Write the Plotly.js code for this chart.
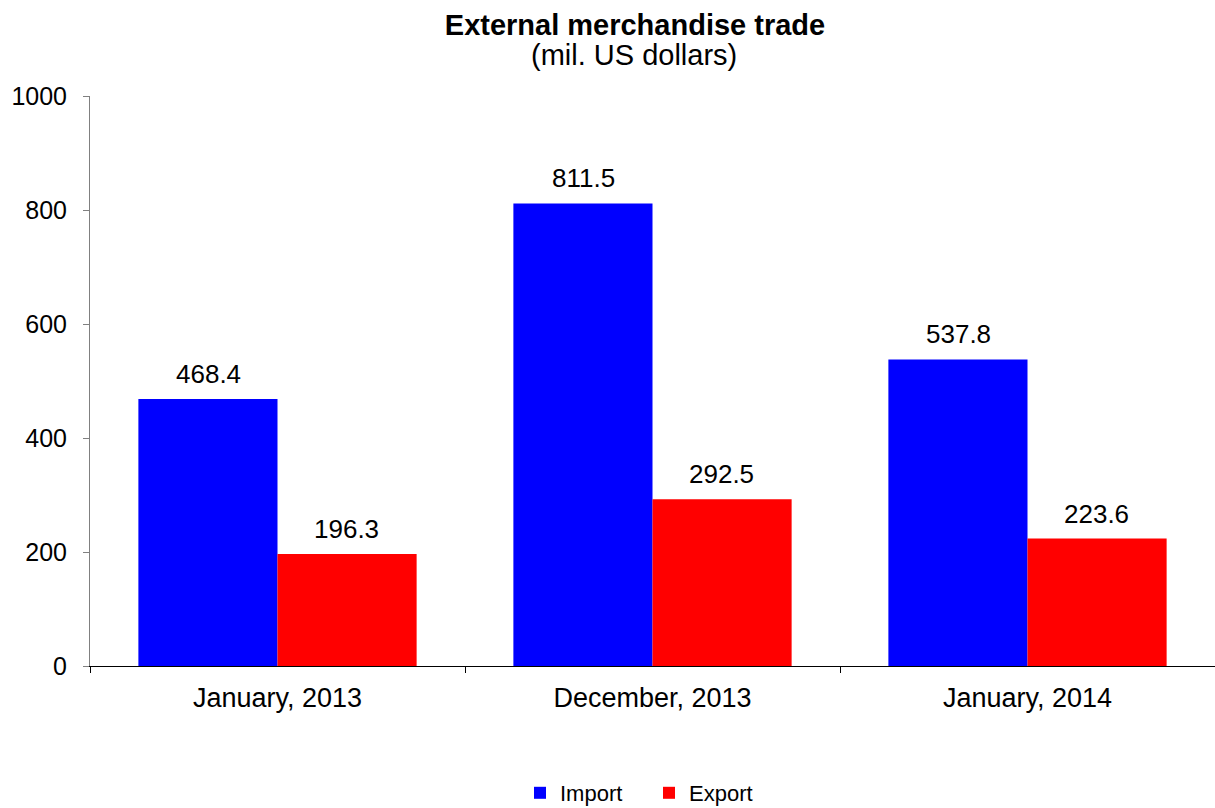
<!DOCTYPE html>
<html>
<head>
<meta charset="utf-8">
<script src="https://cdn.plot.ly/plotly-3.0.1.min.js"></script>
<style>html,body{margin:0;padding:0;background:#fff;}#chart{width:1215px;height:808px;}</style>
</head>
<body>
<div id="chart"></div>
<script>
const categories = ["January, 2013", "December, 2013", "January, 2014"];
const importValues = [468.4, 811.5, 537.8];
const exportValues = [196.3, 292.5, 223.6];
const yTicks = [0, 200, 400, 600, 800, 1000];

const font = "Liberation Sans, Arial, sans-serif";
const traces = [
  {type: "bar", name: "Import", x: categories, y: importValues, marker: {color: "#0000ff"}},
  {type: "bar", name: "Export", x: categories, y: exportValues, marker: {color: "#ff0000"}}
];

const barOffset = 0.1853;
const annotations = [];
categories.forEach((c, i) => {
  annotations.push({x: i - barOffset, y: importValues[i], xref: "x", yref: "y", text: importValues[i].toFixed(1),
    showarrow: false, yanchor: "bottom", yshift: 8, font: {size: 26, color: "#000", family: font}});
  annotations.push({x: i + barOffset, y: exportValues[i], xref: "x", yref: "y", text: exportValues[i].toFixed(1),
    showarrow: false, yanchor: "bottom", yshift: 8, font: {size: 26, color: "#000", family: font}});
});
annotations.push({text: "(mil. US dollars)", xref: "paper", yref: "paper", x: (634 - 90) / 1125, y: (666 - 55) / 570,
  yanchor: "middle", showarrow: false, font: {size: 29, color: "#000", family: font}});

const layout = {
  width: 1215, height: 808,
  margin: {l: 90, r: 0, t: 96, b: 142, autoexpand: false},
  paper_bgcolor: "#fff", plot_bgcolor: "#fff",
  font: {family: font, size: 24, color: "#000"},
  title: {text: "<b>External merchandise trade</b>", x: (635 - 90) / 1125, xref: "paper", y: 1 - 25/808, yref: "container",
    yanchor: "middle", font: {size: 29, color: "#000", family: font}},
  barmode: "group", bargap: 0.258, bargroupgap: 0,
  xaxis: {type: "category", showline: true, linecolor: "#000", linewidth: 1, ticks: "outside", tickson: "boundaries",
    ticklen: 6, tickcolor: "#000", tickfont: {size: 27, color: "#000"}, ticklabelstandoff: 8, showgrid: false, zeroline: false, automargin: false},
  yaxis: {range: [0, 1000], tickvals: yTicks, showline: true, linecolor: "#808080", linewidth: 1, ticks: "outside",
    ticklen: 6, tickcolor: "#808080", tickfont: {size: 25, color: "#000"}, ticklabelstandoff: 11, showgrid: false, zeroline: false, automargin: false},
  showlegend: true,
  legend: {orientation: "h", x: (649 - 90) / 1125, xanchor: "center", y: (666 - 814) / 570, yanchor: "bottom",
    font: {size: 22, color: "#000"}, itemwidth: 30, entrywidth: 84, entrywidthmode: "pixels", traceorder: "normal"},
  annotations: annotations
};

Plotly.newPlot("chart", traces, layout, {displayModeBar: false, staticPlot: true});
</script>
</body>
</html>
